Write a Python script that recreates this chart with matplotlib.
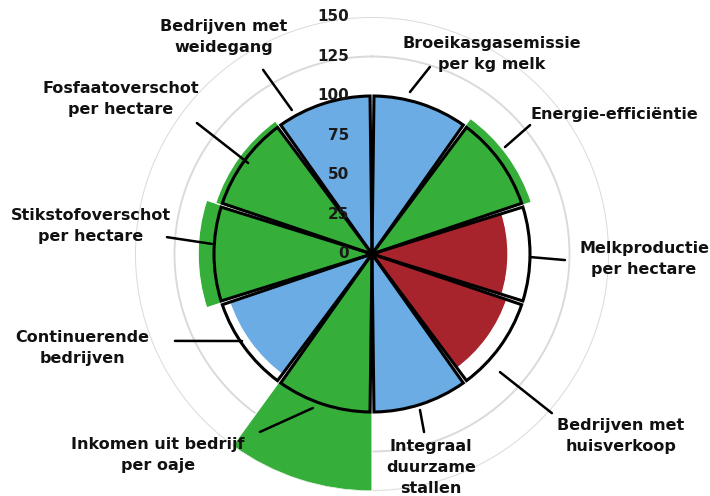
import matplotlib.pyplot as plt
import numpy as np
from matplotlib.transforms import offset_copy

# sectors, clockwise from the top
labels = ['Broeikasgasemissie\nper kg melk', 'Energie-efficiëntie', 'Melkproductie\nper hectare',
          'Bedrijven met\nhuisverkoop', 'Integraal\nduurzame\nstallen', 'Inkomen uit bedrijf\nper oaje',
          'Continuerende\nbedrijven', 'Stikstofoverschot\nper hectare', 'Fosfaatoverschot\nper hectare',
          'Bedrijven met\nweidegang']
values = [101, 106, 86, 90, 101, 150, 95, 110, 104, 100]
colors = ['#6cace4', '#36ae3a', '#a8242d', '#a8242d', '#6cace4', '#36ae3a',
          '#6cace4', '#36ae3a', '#36ae3a', '#6cace4']
reference = 100
ticks = [0, 25, 50, 75, 100, 125, 150]

# label placement (angle in degrees clockwise from north, radius in chart units)
label_ang = [31.0, 60.1, 91.1, 126.2, 164.5, 226.8, 252.0, 275.7, 301.7, 325.7]
label_r = [147.6, 176.6, 172.2, 195.2, 139.9, 185.8, 193.0, 178.7, 186.7, 166.2]
# leader lines: inner end and outer end
lead_in_ang = [13.2, 51.2, 91.1, 132.7, 162.9, 201.0, 236.2, 273.6, 306.3, 330.9]
lead_in_r = [105.3, 108.0, 100.0, 110.2, 103.3, 104.4, 99.0, 101.5, 97.3, 104.3]
lead_out_ang = [17.2, 50.8, 91.8, 131.5, 163.7, 212.2, 246.2, 274.7, 306.8, 329.4]
lead_out_r = [123.9, 129.1, 122.2, 152.0, 117.4, 133.1, 136.3, 130.2, 138.4, 135.4]

n = len(values)
theta = np.deg2rad(np.arange(n) * 360.0 / n + 180.0 / n)
width = 2 * np.pi / n

fig = plt.figure(figsize=(7.1, 4.96), dpi=100)
ax = fig.add_axes([135 / 710, 5 / 496, 474 / 710, 474 / 496], projection='polar')
ax.set_theta_zero_location('N')
ax.set_theta_direction(-1)

ax.bar(theta, values, width=width, color=colors, edgecolor='white', linewidth=0.8, zorder=2)
ax.bar(theta, [reference] * n, width=width * 0.96, fill=False, edgecolor='black', linewidth=2.2, zorder=3)

ax.set_ylim(0, 150)
ax.set_yticks(ticks)
ax.set_yticklabels([])
ax.set_xticks([])
ax.yaxis.grid(True, color='#dadada', linewidth=1.4)
ax.set_axisbelow(True)
ax.spines['polar'].set_visible(False)

# radial tick labels just left of the vertical axis
tr = offset_copy(ax.transData, fig=fig, x=-23, y=0, units='dots')
for t in ticks:
    ax.text(0, t, str(t), transform=tr, ha='right', va='center', fontsize=11,
            fontweight='bold', color='#1a1a1a', zorder=5)

for i in range(n):
    ax.annotate('', xy=(np.deg2rad(lead_in_ang[i]), lead_in_r[i]),
                xytext=(np.deg2rad(lead_out_ang[i]), lead_out_r[i]),
                arrowprops=dict(arrowstyle='-', color='black', lw=1.8, shrinkA=0, shrinkB=0),
                annotation_clip=False, zorder=4)
    ax.text(np.deg2rad(label_ang[i]), label_r[i], labels[i], ha='center', va='center',
            fontsize=11.5, fontweight='bold', color='#111111', linespacing=1.5, zorder=5)

plt.savefig('out.png', dpi=100)
plt.close()
